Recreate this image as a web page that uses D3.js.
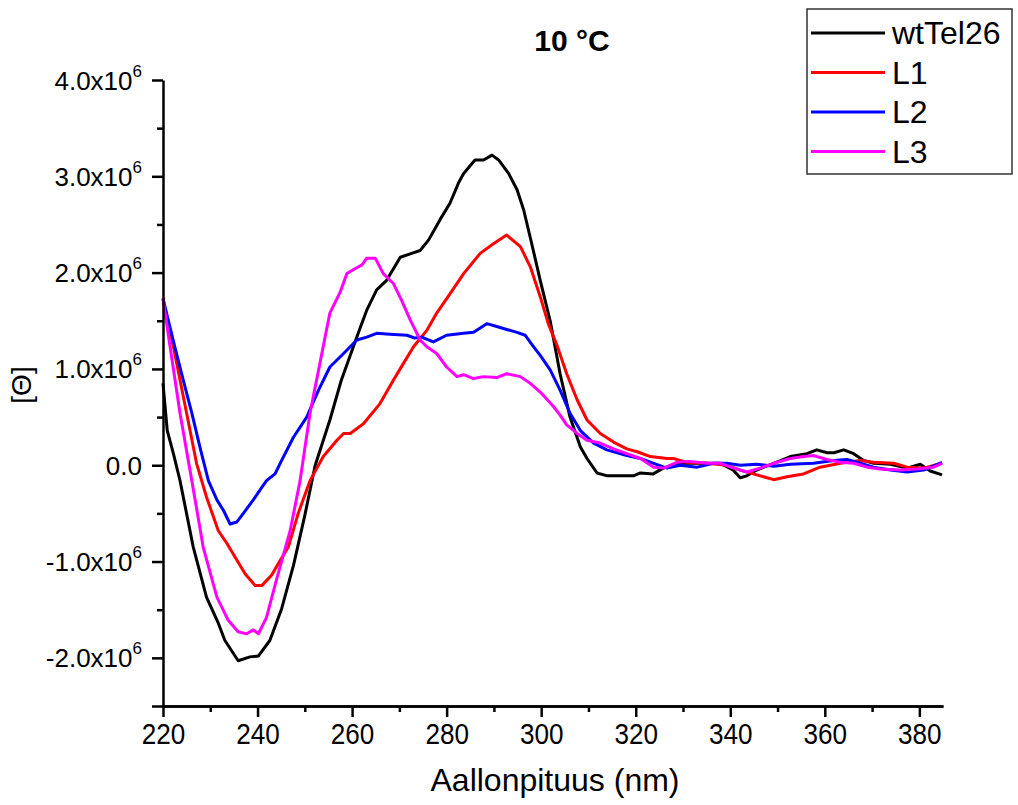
<!DOCTYPE html>
<html>
<head>
<meta charset="utf-8">
<script src="https://cdn.jsdelivr.net/npm/d3@7"></script>
<style>
    body { margin: 0; background: #ffffff; }
    text { font-family: "Liberation Sans", Arial, sans-serif; fill: #000; }
</style>
</head>
<body>
<div id="chart"></div>
<script>
// CD spectra at 10 °C, values in units of 1e6
const wtTel26Nm = [220, 220.9, 222.2, 223.6, 226.4, 229.2, 231.7, 233.1, 235.9, 238.4, 240.2, 242.6, 245.1, 247.6, 250, 252.2, 255.3, 257.7, 261.5, 263.1, 265.2, 267.3, 270.2, 272.6, 274.4, 276.2, 278.6, 280.7, 282.5, 283.6, 286, 287.8, 289.6, 291, 293.1, 294.9, 296.3, 298, 299.8, 301.9, 304, 306.1, 308.3, 309.7, 311.8, 314, 317, 319.5, 321, 323.7, 325.8, 329.4, 332.2, 337.9, 340.6, 342.1, 343.5, 345.6, 349.2, 352.7, 356.2, 358.3, 360.5, 361.9, 364, 366.1, 368.2, 370.3, 373.9, 377.4, 380.2, 382.3, 384.8];
const wtTel26Val = [0.85, 0.36, 0.12, -0.16, -0.85, -1.37, -1.64, -1.82, -2.03, -1.99, -1.98, -1.82, -1.49, -1.04, -0.52, 0.00, 0.47, 0.88, 1.40, 1.61, 1.82, 1.92, 2.16, 2.20, 2.23, 2.34, 2.55, 2.72, 2.93, 3.03, 3.17, 3.17, 3.22, 3.17, 3.03, 2.86, 2.65, 2.30, 1.92, 1.50, 0.95, 0.50, 0.19, 0.07, -0.08, -0.11, -0.11, -0.11, -0.08, -0.09, -0.03, 0.02, 0.02, 0.02, -0.05, -0.13, -0.11, -0.05, 0.02, 0.09, 0.12, 0.16, 0.13, 0.13, 0.16, 0.12, 0.05, 0.02, 0.01, -0.03, 0.01, -0.06, -0.10];

const l1Nm = [220, 222.2, 225, 227.1, 229.2, 231.7, 233.5, 235.2, 237.4, 239.5, 240.9, 243, 244.4, 246.5, 248.6, 251.1, 253.9, 256.8, 258.2, 259.6, 262.4, 265.9, 268.7, 270.9, 273, 275.8, 277.9, 280.7, 283.6, 287.1, 289.9, 292.7, 295.6, 297.7, 299.8, 301.5, 303.3, 305.4, 307.6, 309.7, 312.5, 315.3, 318.1, 320.3, 323.1, 326.6, 328, 330.8, 335.1, 339.3, 342.1, 345.6, 349.2, 352, 355.5, 359, 363.3, 367.5, 370.3, 374.6, 377.4, 380.9, 384.8];
const l1Val = [1.73, 1.23, 0.54, 0.02, -0.33, -0.68, -0.81, -0.95, -1.13, -1.25, -1.25, -1.14, -1.02, -0.85, -0.50, -0.16, 0.09, 0.26, 0.33, 0.33, 0.43, 0.64, 0.88, 1.06, 1.23, 1.40, 1.58, 1.78, 1.99, 2.20, 2.30, 2.39, 2.27, 2.06, 1.75, 1.47, 1.25, 0.95, 0.68, 0.47, 0.33, 0.24, 0.17, 0.14, 0.09, 0.07, 0.07, 0.03, 0.02, 0.00, -0.05, -0.10, -0.15, -0.12, -0.09, -0.02, 0.02, 0.05, 0.03, 0.02, -0.02, -0.03, 0.02];

const l2Nm = [220, 222.5, 224.3, 226.1, 227.8, 229.6, 231.4, 232.8, 234.2, 235.6, 237, 239.1, 240.9, 241.9, 243.7, 245.1, 247.6, 250.4, 252.9, 255.3, 258.2, 261, 263.1, 265.2, 268, 271.6, 273.3, 274.7, 277.2, 280, 283.6, 285.7, 288.5, 290.6, 292.7, 294.9, 296.6, 298.4, 299.8, 301.9, 304, 306.1, 308.3, 311.1, 313.9, 318.1, 321, 323.8, 326.6, 329.4, 333, 336.5, 339.3, 342.1, 345.6, 349.2, 352.7, 357.6, 361.9, 364.7, 367.5, 370.3, 373.9, 377.4, 380.9, 384.8];
const l2Val = [1.73, 1.23, 0.88, 0.54, 0.19, -0.16, -0.36, -0.47, -0.61, -0.59, -0.50, -0.36, -0.23, -0.16, -0.09, 0.05, 0.29, 0.50, 0.78, 1.02, 1.16, 1.30, 1.33, 1.37, 1.36, 1.35, 1.32, 1.33, 1.28, 1.35, 1.37, 1.38, 1.47, 1.44, 1.41, 1.38, 1.35, 1.23, 1.14, 0.99, 0.78, 0.54, 0.36, 0.23, 0.16, 0.10, 0.07, 0.02, -0.03, 0.00, -0.02, 0.02, 0.02, 0.00, 0.01, -0.01, 0.01, 0.02, 0.05, 0.06, 0.02, -0.02, -0.05, -0.07, -0.05, 0.03];

const l3Nm = [220, 221.5, 223.6, 226.1, 228.5, 231.4, 233.8, 235.9, 237.7, 239.1, 240.2, 241.9, 244, 246.9, 249, 251.1, 253.2, 255.3, 257.5, 258.9, 260.6, 262.1, 263.1, 264.9, 266.6, 268.7, 270.5, 272.3, 274.4, 275.8, 277.9, 280, 282.2, 283.6, 285.7, 287.8, 290.6, 292.7, 295.6, 297.7, 299.8, 302.6, 304, 305.4, 307.6, 309.7, 312.5, 315.3, 318.1, 321, 323.8, 325.9, 328.7, 331.5, 335.1, 337.9, 340.7, 343.5, 346.3, 349.2, 352.7, 355.5, 357.6, 360.5, 363.3, 366.1, 369, 371.7, 376, 379.6, 383, 384.8];
const l3Val = [1.73, 1.23, 0.54, -0.16, -0.85, -1.37, -1.61, -1.73, -1.75, -1.71, -1.75, -1.58, -1.19, -0.68, -0.16, 0.54, 1.06, 1.58, 1.80, 1.99, 2.04, 2.08, 2.15, 2.15, 1.99, 1.89, 1.71, 1.51, 1.30, 1.23, 1.16, 1.02, 0.92, 0.94, 0.90, 0.92, 0.91, 0.95, 0.92, 0.85, 0.76, 0.61, 0.52, 0.42, 0.33, 0.26, 0.23, 0.17, 0.12, 0.07, -0.02, -0.03, 0.03, 0.04, 0.02, 0.02, -0.03, -0.07, -0.03, 0.02, 0.07, 0.09, 0.10, 0.06, 0.03, 0.02, -0.02, -0.04, -0.05, -0.04, -0.02, 0.02];

const seriesNames = ['wtTel26', 'L1', 'L2', 'L3'];
const seriesColors = ['#000000', '#ff0000', '#0000ff', '#ff00ff'];

const xTicks = [220, 240, 260, 280, 300, 320, 340, 360, 380];
const xMinorTicks = [230, 250, 270, 290, 310, 330, 350, 370];
const yTicks = [-2, -1, 0, 1, 2, 3, 4];
const yMinorTicks = [-1.5, -0.5, 0.5, 1.5, 2.5, 3.5];

const chartTitle = '10 °C';
const xTitle = 'Aallonpituus (nm)';
const yTitle = '[Θ]';

const series = [
    { nm: wtTel26Nm, val: wtTel26Val },
    { nm: l1Nm, val: l1Val },
    { nm: l2Nm, val: l2Val },
    { nm: l3Nm, val: l3Val }
].map((s, i) => ({
    name: seriesNames[i],
    color: seriesColors[i],
    points: s.nm.map((n, j) => ({ nm: n, v: s.val[j] }))
}));

const width = 1018;
const height = 805;
const plot = { left: 163, right: 943, top: 80, bottom: 706 };

const svg = d3.select('#chart')
    .append('svg')
    .attr('width', width)
    .attr('height', height);

svg.append('rect')
    .attr('width', width)
    .attr('height', height)
    .attr('fill', '#ffffff');

const x = d3.scaleLinear()
    .domain([220, 385])
    .range([plot.left, plot.right]);

const y = d3.scaleLinear()
    .domain([-2.5, 4])
    .range([plot.bottom, plot.top]);

// Curves
const line = d3.line()
    .x(d => x(d.nm))
    .y(d => y(d.v))
    .curve(d3.curveLinear);

svg.append('g')
    .selectAll('path')
    .data(series)
    .enter()
    .append('path')
    .attr('fill', 'none')
    .attr('stroke', d => d.color)
    .attr('stroke-width', 3)
    .attr('stroke-linejoin', 'round')
    .attr('d', d => line(d.points));

// Axes
function styleAxis(g) {
    g.selectAll('path, line')
        .attr('stroke', '#000')
        .attr('stroke-width', 2.5);
    g.selectAll('text').remove();
}

svg.append('g')
    .attr('transform', `translate(${plot.left},0)`)
    .call(d3.axisLeft(y).tickValues(yMinorTicks).tickSize(6).tickSizeOuter(0).tickFormat(''))
    .call(styleAxis);

const yAxis = svg.append('g')
    .attr('transform', `translate(${plot.left},0)`)
    .call(d3.axisLeft(y).tickValues([y.domain()[0], ...yTicks]).tickSize(11).tickSizeOuter(0))
    .call(styleAxis);
yAxis.select('.domain').remove();

svg.append('g')
    .attr('transform', `translate(0,${plot.bottom})`)
    .call(d3.axisBottom(x).tickValues(xMinorTicks).tickSize(6).tickSizeOuter(0).tickFormat(''))
    .call(styleAxis);

const xAxis = svg.append('g')
    .attr('transform', `translate(0,${plot.bottom})`)
    .call(d3.axisBottom(x).tickValues(xTicks).tickSize(11).tickSizeOuter(0))
    .call(styleAxis);

// Tick labels
xAxis.selectAll('.tick')
    .append('text')
    .attr('y', 38)
    .attr('text-anchor', 'middle')
    .attr('font-size', '29px')
    .attr('transform', 'scale(0.9,1)')
    .text(d => d);

yAxis.selectAll('.tick')
    .filter(d => d !== y.domain()[0])
    .each(function(d) {
        const t = d3.select(this).append('text')
            .attr('x', -21)
            .attr('y', 9)
            .attr('text-anchor', 'end')
            .attr('font-size', '26px');
        if (d === 0) {
            t.text('0.0');
        } else {
            t.append('tspan').text(d.toFixed(1) + 'x10');
            t.append('tspan')
                .attr('font-size', '17px')
                .attr('dy', -13)
                .text('6');
        }
    });

// Titles
svg.append('text')
    .attr('x', 572)
    .attr('y', 51)
    .attr('text-anchor', 'middle')
    .attr('font-size', '30px')
    .attr('font-weight', 'bold')
    .text(chartTitle);

svg.append('text')
    .attr('transform', 'translate(555,791)')
    .attr('text-anchor', 'middle')
    .attr('font-size', '32px')
    .text(xTitle);

svg.append('text')
    .attr('transform', 'translate(31,385) rotate(-90)')
    .attr('text-anchor', 'middle')
    .attr('font-size', '28px')
    .text(yTitle);

// Legend
const legend = svg.append('g')
    .attr('transform', 'translate(807,9)');

legend.append('rect')
    .attr('width', 205)
    .attr('height', 165)
    .attr('fill', '#ffffff')
    .attr('stroke', '#333')
    .attr('stroke-width', 1.5);

const items = legend.selectAll('.legend-item')
    .data(series)
    .enter()
    .append('g')
    .attr('class', 'legend-item')
    .attr('transform', (d, i) => `translate(0,${24 + i * 39.5})`);

items.append('line')
    .attr('x1', 4)
    .attr('x2', 78)
    .attr('stroke', d => d.color)
    .attr('stroke-width', 3);

items.append('text')
    .attr('x', 85)
    .attr('y', 11)
    .attr('font-size', '32px')
    .text(d => d.name);
</script>
</body>
</html>
